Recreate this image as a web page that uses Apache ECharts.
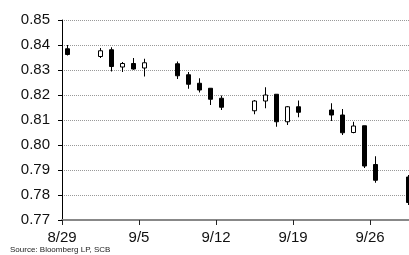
<!DOCTYPE html>
<html>
<head>
<meta charset="utf-8">
<script src="https://cdn.jsdelivr.net/npm/echarts@6/dist/echarts.min.js"></script>
<style>
  html, body { margin: 0; padding: 0; background: #fff; }
  #kline { width: 409px; height: 255px; }
</style>
</head>
<body>
<div id="kline"></div>
<script>
// every calendar day on the axis (weekends stay empty)
var days = ['8/29','8/30','8/31','9/1','9/2','9/3','9/4','9/5','9/6','9/7',
            '9/8','9/9','9/10','9/11','9/12','9/13','9/14','9/15','9/16','9/17',
            '9/18','9/19','9/20','9/21','9/22','9/23','9/24','9/25','9/26','9/27',
            '9/28','9/29'];

// trading days and their prices
var tradeDates = ['8/29','9/1','9/2','9/3','9/4','9/5','9/8','9/9','9/10','9/11','9/12',
                  '9/15','9/16','9/17','9/18','9/19','9/22','9/23','9/24','9/25','9/26','9/29'];
var opens  = [0.8385, 0.8354, 0.8381, 0.8312, 0.8326, 0.8308, 0.8325, 0.8281, 0.8247, 0.8227, 0.8187,
              0.8137, 0.8176, 0.8203, 0.8093, 0.8153, 0.8140, 0.8120, 0.8050, 0.8077, 0.7922, 0.7872];
var closes = [0.8362, 0.8377, 0.8314, 0.8326, 0.8304, 0.8329, 0.8277, 0.8243, 0.8220, 0.8183, 0.8151,
              0.8176, 0.8200, 0.8093, 0.8153, 0.8131, 0.8120, 0.8049, 0.8076, 0.7916, 0.7859, 0.7770];
var lows   = [0.8358, 0.8348, 0.8294, 0.8292, 0.8301, 0.8274, 0.8264, 0.8225, 0.8210, 0.8160, 0.8140,
              0.8123, 0.8147, 0.8073, 0.8080, 0.8111, 0.8096, 0.8040, 0.8047, 0.7908, 0.7849, 0.7760];
var highs  = [0.8400, 0.8388, 0.8391, 0.8332, 0.8348, 0.8345, 0.8334, 0.8292, 0.8267, 0.8228, 0.8198,
              0.8180, 0.8231, 0.8203, 0.8156, 0.8178, 0.8167, 0.8144, 0.8093, 0.8077, 0.7955, 0.7880];

// x tick labels, one every 7 days
var tickLabels = ['8/29', '9/5', '9/12', '9/19', '9/26'];

(function(){

var kline = echarts.init(document.getElementById("kline"));

// candlestick wants [open, close, low, high]
var klineData = days.map(function (d) {
    var i = tradeDates.indexOf(d);
    if (i < 0) return '-';
    return [opens[i], closes[i], lows[i], highs[i]];
});

var font = 'Arial, "Liberation Sans", sans-serif';

option = {
    animation: false,
    grid: {
        left: 62,
        top: 20,
        width: 352,      // last day half cut by the window edge
        height: 200,
        outerBoundsMode: 'none'
    },
    xAxis: [
        {
            // carries the candles
            type: 'category',
            data: days,
            boundaryGap: true,
            show: false
        },
        {
            // carries ticks + labels at week starts
            type: 'value',
            position: 'bottom',
            min: 0,
            max: days.length,
            interval: 7,
            axisLine: { lineStyle: { color: '#888', width: 2 } },
            axisTick: { length: 5, lineStyle: { color: '#222', width: 1 } },
            axisLabel: {
                margin: 10,
                fontSize: 15,
                fontFamily: font,
                color: '#111',
                showMaxLabel: false,
                formatter: function (v) {
                    var k = v / 7;
                    return (k === Math.floor(k) && tickLabels[k]) ? tickLabels[k] : '';
                }
            },
            splitLine: { show: false }
        }
    ],
    yAxis: {
        type: 'value',
        min: 0.77,
        max: 0.85,
        interval: 0.01,
        axisLine: { show: true, lineStyle: { color: '#000', width: 1 } },
        axisTick: { show: true, length: 4, lineStyle: { color: '#000' } },
        axisLabel: {
            margin: 12,
            fontSize: 15,
            fontFamily: font,
            color: '#111',
            formatter: function (v) { return v.toFixed(2); }
        },
        splitLine: { lineStyle: { color: '#999', type: [1, 1], width: 1 } }
    },
    series: [
        {
            type: 'candlestick',
            xAxisIndex: 0,
            barWidth: 5,
            data: klineData,
            itemStyle: {
                color: '#fff',
                color0: '#000',
                borderColor: '#000',
                borderColor0: '#000',
                borderColorDoji: '#000',
                borderWidth: 1
            }
        }
    ],
    graphic: [
        {
            type: 'text',
            left: 10,
            top: 246,
            style: {
                text: 'Source: Bloomberg LP, SCB',
                font: '8px ' + font,
                fill: '#222'
            }
        }
    ]
};

kline.setOption(option);
})();
</script>
</body>
</html>
